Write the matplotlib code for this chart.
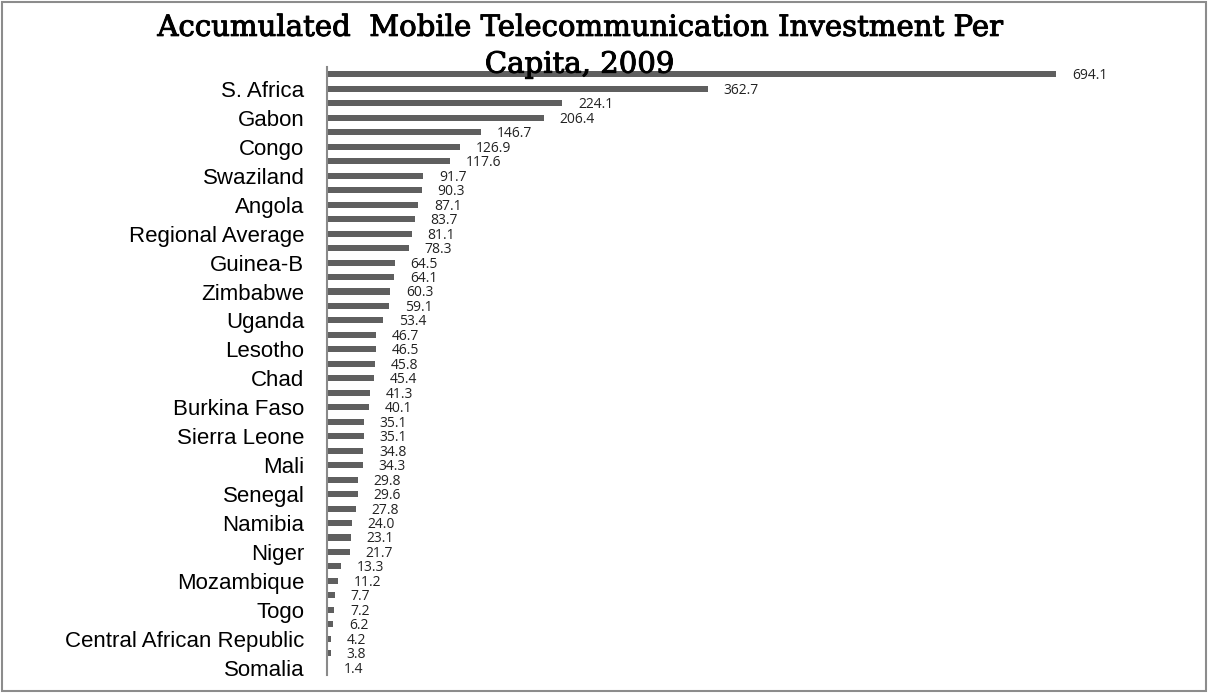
import numpy as np
import matplotlib.pyplot as plt
import matplotlib.patheffects as pe
from matplotlib.patches import Rectangle

# values top to bottom
values = [694.1, 362.7, 224.1, 206.4, 146.7, 126.9, 117.6, 91.7, 90.3, 87.1,
          83.7, 81.1, 78.3, 64.5, 64.1, 60.3, 59.1, 53.4, 46.7, 46.5,
          45.8, 45.4, 41.3, 40.1, 35.1, 35.1, 34.8, 34.3, 29.8, 29.6,
          27.8, 24.0, 23.1, 21.7, 13.3, 11.2, 7.7, 7.2, 6.2, 4.2,
          3.8, 1.4]

# only every other category name is printed on the axis
shown_labels = ['S. Africa', 'Gabon', 'Congo', 'Swaziland', 'Angola',
                'Regional Average', 'Guinea-B', 'Zimbabwe', 'Uganda', 'Lesotho',
                'Chad', 'Burkina Faso', 'Sierra Leone', 'Mali', 'Senegal',
                'Namibia', 'Niger', 'Mozambique', 'Togo',
                'Central African Republic', 'Somalia']

title = 'Accumulated  Mobile Telecommunication Investment Per\nCapita, 2009'

fig = plt.figure(figsize=(12.1, 6.93), dpi=100)
ax = fig.add_axes([0.270, 0.026, 0.695, 0.877])

y = np.arange(len(values))
ax.barh(y, values, height=0.42, color='#5f5f5f')
for yi, v in zip(y, values):
    ax.text(v + 15, yi + 0.1, f'{v:.1f}', va='center', ha='left',
            fontsize=10, family='Open Sans', color='#222222')

ax.set_ylim(len(values) - 0.5, -0.5)
ax.set_xlim(0, 800)
ax.set_yticks(y[1::2])
ax.set_yticklabels(shown_labels, family='Liberation Sans', fontsize=16)
ax.tick_params(axis='y', length=0, pad=16)
ax.set_xticks([])
for s in ['top', 'right', 'bottom']:
    ax.spines[s].set_visible(False)
ax.spines['left'].set_color('#8a8a8a')
ax.spines['left'].set_linewidth(1.5)

# title sits over the top bar, as in the original
fig.text(0.479, 0.980, title, ha='center', va='top', family='DejaVu Serif',
         fontsize=21, linespacing=1.4, zorder=5,
         path_effects=[pe.withStroke(linewidth=0.7, foreground='black')])

# outer frame
fig.patches.append(Rectangle((0.002, 0.003), 0.995, 0.994, transform=fig.transFigure,
                             fill=False, edgecolor='#8c8c8c', linewidth=1.5))

fig.savefig('out.png', dpi=100)
